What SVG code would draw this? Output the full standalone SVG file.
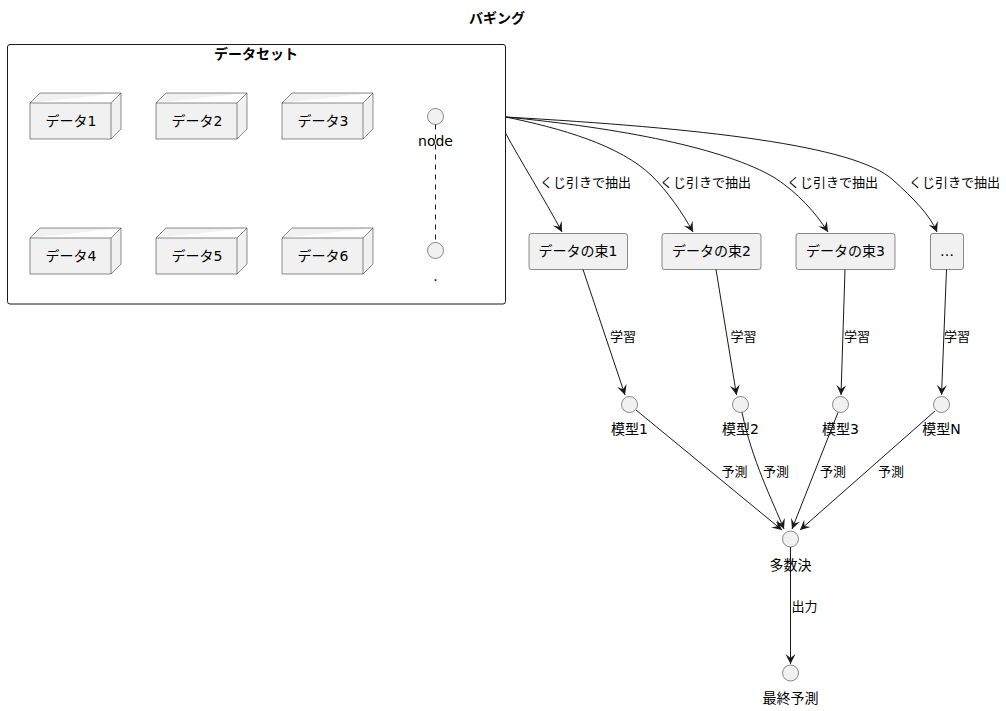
<svg xmlns="http://www.w3.org/2000/svg" width="1006" height="711" viewBox="0 0 1006 711">
<style>
text{font-family:"DejaVu Sans","Noto Sans CJK JP",sans-serif;fill:#000}
.t{font-size:14px;font-weight:bold;text-anchor:middle}
.n{font-size:14px;text-anchor:middle}
.l{font-size:13px}
.box{fill:#F1F1F1;stroke:#181818;stroke-width:0.5}
.e{fill:none;stroke:#181818;stroke-width:1}
</style>
<defs>
<marker id="ah" markerWidth="11" markerHeight="11" refX="10" refY="5" orient="auto" markerUnits="userSpaceOnUse">
<path d="M0,0 L10,5 L0,10 L4,5 Z" fill="#181818"/>
</marker>
</defs>
<rect width="1006" height="711" fill="#fff"/>
<text class="t" x="497" y="23">バギング</text>

<g id="dataset">
<rect x="7.5" y="44.5" width="498" height="259.5" rx="2.5" fill="none" stroke="#181818" stroke-width="1"/>
<text class="t" x="256" y="59">データセット</text>
</g>
<g id="data1"><path class="box" d="M30,103 L40,93 L121,93 L121,129 L111,139 L30,139 Z M30,103 L111,103 L121,93 M111,103 L111,139"/><text class="n" x="71" y="126">データ1</text></g>
<g id="data2"><path class="box" d="M156,103 L166,93 L247,93 L247,129 L237,139 L156,139 Z M156,103 L237,103 L247,93 M237,103 L237,139"/><text class="n" x="197" y="126">データ2</text></g>
<g id="data3"><path class="box" d="M282,103 L292,93 L373,93 L373,129 L363,139 L282,139 Z M282,103 L363,103 L373,93 M363,103 L363,139"/><text class="n" x="323" y="126">データ3</text></g>
<g id="data4"><path class="box" d="M30,238 L40,228 L121,228 L121,264 L111,274 L30,274 Z M30,238 L111,238 L121,228 M111,238 L111,274"/><text class="n" x="71" y="261">データ4</text></g>
<g id="data5"><path class="box" d="M156,238 L166,228 L247,228 L247,264 L237,274 L156,274 Z M156,238 L237,238 L247,228 M237,238 L237,274"/><text class="n" x="197" y="261">データ5</text></g>
<g id="data6"><path class="box" d="M282,238 L292,228 L373,228 L373,264 L363,274 L282,274 Z M282,238 L363,238 L373,228 M363,238 L363,274"/><text class="n" x="323" y="261">データ6</text></g>
<g id="nodeA"><circle class="box" cx="435.5" cy="116.5" r="8"/><text class="n" x="435.5" y="146">node</text></g>
<g id="nodeB"><circle class="box" cx="435.5" cy="250.5" r="8"/><text class="n" x="435.5" y="281">.</text></g>

<g id="bundle1"><rect class="box" x="529" y="233.5" width="98.5" height="36" rx="2.5"/><text class="n" x="578" y="256">データの束1</text></g>
<g id="bundle2"><rect class="box" x="662" y="233.5" width="99" height="36" rx="2.5"/><text class="n" x="711.5" y="256">データの束2</text></g>
<g id="bundle3"><rect class="box" x="796" y="233.5" width="99" height="36" rx="2.5"/><text class="n" x="845.5" y="256">データの束3</text></g>
<g id="bundle4"><rect class="box" x="930.5" y="233.5" width="33" height="36" rx="2.5"/><text class="n" x="947" y="256">…</text></g>

<g id="model1"><circle class="box" cx="629.5" cy="404.5" r="8"/><text class="n" x="629.5" y="434">模型1</text></g>
<g id="model2"><circle class="box" cx="740.5" cy="404.5" r="8"/><text class="n" x="740.5" y="434">模型2</text></g>
<g id="model3"><circle class="box" cx="840.5" cy="404.5" r="8"/><text class="n" x="840.5" y="434">模型3</text></g>
<g id="modelN"><circle class="box" cx="941.5" cy="404.5" r="8"/><text class="n" x="941.5" y="434">模型N</text></g>
<g id="vote"><circle class="box" cx="790.5" cy="539" r="8"/><text class="n" x="790.5" y="570">多数決</text></g>
<g id="final"><circle class="box" cx="790.5" cy="673" r="8"/><text class="n" x="790.5" y="703">最終予測</text></g>

<g id="connectors">
<line x1="435.5" y1="124.5" x2="435.5" y2="242.5" stroke="#181818" stroke-width="1" stroke-dasharray="5,5"/>
<path class="e" marker-end="url(#ah)" d="M505.5,133 C520,160 545,200 562,232"/>
<path class="e" marker-end="url(#ah)" d="M505.5,117 C560,128 620,145 652,176 C668,192 682,212 693,232"/>
<path class="e" marker-end="url(#ah)" d="M505.5,117 C620,128 725,148 775,178 C798,193 815,212 828,232"/>
<path class="e" marker-end="url(#ah)" d="M505.5,117 C700,128 855,145 893,180 C913,198 930,215 937,232"/>
<path class="e" marker-end="url(#ah)" d="M583,269.5 L625,395"/>
<path class="e" marker-end="url(#ah)" d="M716,269.5 L736.5,395"/>
<path class="e" marker-end="url(#ah)" d="M845,269.5 L841,395"/>
<path class="e" marker-end="url(#ah)" d="M946.5,269.5 L941.5,395"/>
<path class="e" marker-end="url(#ah)" d="M636,410 L782,530"/>
<path class="e" marker-end="url(#ah)" d="M742,412.5 C752,460 772,500 784,529"/>
<path class="e" marker-end="url(#ah)" d="M838,412.5 L792,529"/>
<path class="e" marker-end="url(#ah)" d="M935,411 L800,530"/>
<path class="e" marker-end="url(#ah)" d="M790.5,547 L790.5,664"/>
<text class="l" x="540" y="187">くじ引きで抽出</text>
<text class="l" x="660" y="187">くじ引きで抽出</text>
<text class="l" x="787" y="187">くじ引きで抽出</text>
<text class="l" x="909" y="187">くじ引きで抽出</text>
<text class="l" x="610" y="341">学習</text>
<text class="l" x="730.5" y="341">学習</text>
<text class="l" x="844" y="341">学習</text>
<text class="l" x="944" y="341">学習</text>
<text class="l" x="721.5" y="476">予測</text>
<text class="l" x="763" y="476">予測</text>
<text class="l" x="820" y="476">予測</text>
<text class="l" x="878" y="476">予測</text>
<text class="l" x="791.5" y="611">出力</text>
</g>
</svg>
